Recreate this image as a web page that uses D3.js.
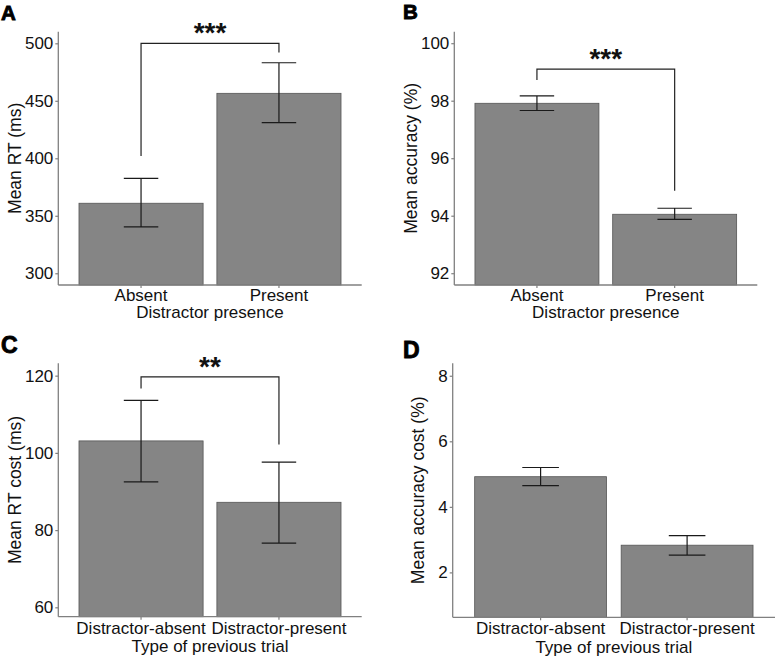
<!DOCTYPE html>
<html><head><meta charset="utf-8">
<script src="https://cdn.jsdelivr.net/npm/d3@7"></script>
<style>body{margin:0;background:#fff}svg{display:block;font-family:"Liberation Sans",Arial,sans-serif}</style>
</head><body><svg id="c" width="777" height="658"></svg>
<script>
// ---- data ----
const catsAB = ["Absent", "Present"];
const catsCD = ["Distractor-absent", "Distractor-present"];
const rtMean = [360.9, 456.5], rtLo = [340.3, 431.0], rtHi = [382.6, 483.1];
const accMean = [97.91, 94.05], accLo = [97.66, 93.87], accHi = [98.17, 94.26];
const rtCostMean = [103.1, 87.2], rtCostLo = [92.5, 76.6], rtCostHi = [113.6, 97.6];
const accCostMean = [4.92, 2.83], accCostLo = [4.65, 2.53], accCostHi = [5.20, 3.12];
const ticksA = [300, 350, 400, 450, 500];
const ticksB = [92, 94, 96, 98, 100];
const ticksC = [60, 80, 100, 120];
const ticksD = [2, 4, 6, 8];
// significance brackets: [leftLegEnd, bracketY, rightLegEnd, label]
const sigA = [402, 500, 492, "***"];
const sigB = [98.72, 99.10, 94.87, "***"];
const sigC = [116.7, 119.7, 102.2, "**"];

const FS = 17;
const svg = d3.select("#c");
function panel(o) {
  const g = svg.append("g");
  const y = d3.scaleLinear().domain(o.domain).range([o.bottom, o.top]);
  const x = d3.scaleBand().domain(o.cats).range([o.left, o.right]).paddingInner(0.1).paddingOuter(0.15);
  const step = x.step();
  // bars
  g.selectAll("rect.bar").data(o.cats).join("rect")
    .attr("x", d => x(d)).attr("width", x.bandwidth())
    .attr("y", (d, i) => y(o.mean[i])).attr("height", (d, i) => o.bottom - y(o.mean[i]))
    .attr("fill", "#858585").attr("stroke", "#555").attr("stroke-width", 0.8);
  // error bars
  o.cats.forEach((c, i) => {
    const cx = x(c) + x.bandwidth() / 2, hw = step * 0.125;
    g.append("path").attr("d",
      `M${cx - hw},${y(o.hi[i])}H${cx + hw}M${cx},${y(o.hi[i])}V${y(o.lo[i])}M${cx - hw},${y(o.lo[i])}H${cx + hw}`)
      .attr("stroke", "#1a1a1a").attr("stroke-width", 1.2).attr("fill", "none");
  });
  // axes
  const ya = g.append("g").attr("transform", `translate(${o.left},0)`)
    .call(d3.axisLeft(y).tickValues(o.ticks).tickSize(3).tickPadding(2).tickSizeOuter(0));
  const xa = g.append("g").attr("transform", `translate(0,${o.bottom})`)
    .call(d3.axisBottom(x).tickSize(3).tickPadding(o.xpad).tickSizeOuter(0));
  [ya, xa].forEach(a => {
    a.select(".domain").attr("stroke", "#808080").attr("stroke-width", 1.3);
    a.selectAll(".tick line").attr("stroke", "#808080").attr("stroke-width", 1.2);
    a.selectAll(".tick text").attr("fill", "#111").attr("font-size", FS).attr("font-family", "Liberation Sans, Arial, sans-serif");
  });
  ya.select(".domain").attr("d", `M0,${o.top}V${o.bottom}`);
  xa.select(".domain").attr("d", `M${o.left},0H${o.right}`);
  // titles
  g.append("text").attr("transform", `translate(${o.ytx},${(o.top + o.bottom) / 2}) rotate(-90)`)
    .attr("text-anchor", "middle").attr("dominant-baseline", "central")
    .attr("font-size", FS + 0.5).attr("fill", "#111").text(o.ytitle);
  g.append("text").attr("x", (o.left + o.right) / 2).attr("y", o.bottom + o.xtoff)
    .attr("text-anchor", "middle").attr("font-size", FS).attr("fill", "#111").text(o.xtitle);
  g.append("text").attr("x", o.lx).attr("y", o.ly).attr("font-size", o.lfs).attr("font-weight", "bold")
    .attr("fill", "#000").attr("stroke", "#000").attr("stroke-width", 0.9).text(o.letter);
  // significance bracket
  if (o.sig) {
    const x1 = x(o.cats[0]) + x.bandwidth() / 2, x2 = x(o.cats[1]) + x.bandwidth() / 2;
    g.append("path").attr("d", `M${x1},${y(o.sig[0])}V${y(o.sig[1])}H${x2}V${y(o.sig[2])}`)
      .attr("stroke", "#222").attr("stroke-width", 1.2).attr("fill", "none");
    g.append("text").attr("x", (x1 + x2) / 2).attr("y", y(o.sig[1]) - 1)
      .attr("text-anchor", "middle").attr("font-size", 28).attr("font-weight", "bold")
      .attr("fill", "#111").text(o.sig[3]);
  }
}
panel({letter: "A", lx: 1, ly: 19.5, lfs: 20.5, cats: catsAB, mean: rtMean, lo: rtLo, hi: rtHi, ticks: ticksA,
  domain: [289.8, 510.1], left: 58.3, right: 361.7, top: 31.7, bottom: 285, ytx: 15, xpad: 0.5, xtoff: 32.5,
  ytitle: "Mean RT (ms)", xtitle: "Distractor presence", sig: sigA});
panel({letter: "B", lx: 403, ly: 18.5, lfs: 20.5, cats: catsAB, mean: accMean, lo: accLo, hi: accHi, ticks: ticksB,
  domain: [91.59, 100.40], left: 454.3, right: 757.3, top: 31.7, bottom: 285, ytx: 411, xpad: 0.5, xtoff: 32.5,
  ytitle: "Mean accuracy (%)", xtitle: "Distractor presence", sig: sigB});
panel({letter: "C", lx: 1, ly: 353, lfs: 23, cats: catsCD, mean: rtCostMean, lo: rtCostLo, hi: rtCostHi, ticks: ticksC,
  domain: [57.57, 123.2], left: 58.3, right: 361.7, top: 363.3, bottom: 616.7, ytx: 15, xpad: 2, xtoff: 35.5,
  ytitle: "Mean RT cost (ms)", xtitle: "Type of previous trial", sig: sigC});
panel({letter: "D", lx: 403, ly: 358, lfs: 23, cats: catsCD, mean: accCostMean, lo: accCostLo, hi: accCostHi, ticks: ticksD,
  domain: [0.63, 8.38], left: 452.7, right: 775, top: 363.3, bottom: 617.3, ytx: 418, xpad: 2, xtoff: 35.5,
  ytitle: "Mean accuracy cost (%)", xtitle: "Type of previous trial"});
</script></body></html>
